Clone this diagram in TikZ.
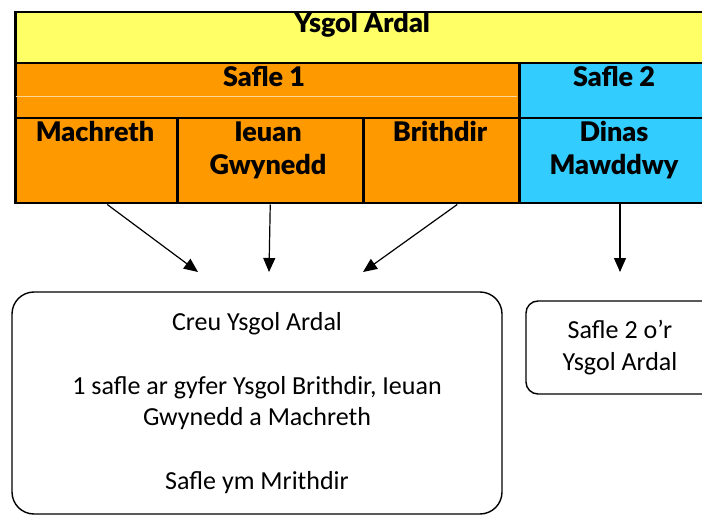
\documentclass[tikz,border=0pt]{standalone}
\usepackage{fontspec}
\setmainfont{Carlito}
\newfontfamily\gillfont{Lato}[BoldFont={Lato Black}]
\usepackage{tikz}
\usetikzlibrary{arrows.meta,positioning}
\definecolor{ysgolyellow}{HTML}{FFFF66}
\definecolor{safleorange}{HTML}{FF9900}
\definecolor{safleblue}{HTML}{33CCFF}

\begin{document}
\begin{tikzpicture}[x=1pt,y=-1pt,
  cell/.style={draw=black,line width=2.5pt,inner sep=0pt,anchor=north west},
  head/.style={font=\gillfont\bfseries\fontsize{27}{33}\selectfont,align=center,anchor=base},
  box/.style={draw=black,line width=1.4pt,align=center,font=\fontsize{26}{31.5}\selectfont},
  arr/.style={-{Triangle[length=14pt,width=12pt]},line width=1.2pt}]
\useasboundingbox (0,0) rectangle (702,516);
\clip (0,0) rectangle (702,516);
% table
\node[cell,fill=ysgolyellow,minimum width=706,minimum height=51] (ysgolrow) at (14,11) {};
\node[cell,fill=safleorange,minimum width=504,minimum height=55] (safle1row) at (14,62) {};
\node[cell,fill=safleblue,minimum width=202,minimum height=55] (safle2row) at (518,62) {};
\draw[white!60!safleorange,line width=0.6pt] (15.5,96) -- (516.5,96);
\node[cell,fill=safleorange,minimum width=162,minimum height=85] (machcell) at (14,117) {};
\node[cell,fill=safleorange,minimum width=186,minimum height=85] (ieuancell) at (176,117) {};
\node[cell,fill=safleorange,minimum width=156,minimum height=85] (brithcell) at (362,117) {};
\node[cell,fill=safleblue,minimum width=202,minimum height=85] (dinascell) at (518,117) {};
\node[head] (ardal) at (362,33) {Ysgol Ardal};
\node[head] (safle1) at (264,87) {Safle 1};
\node[head] (safle2) at (614,87) {Safle 2};
\node[head] (mach) at (95,142) {Machreth};
\node[head,anchor=north] (ieuan) at (268,118) {Ieuan\\Gwynedd};
\node[head] (brith) at (440,142) {Brithdir};
\node[head,anchor=north] (dinas) at (614,118) {Dinas\\Mawddwy};
% boxes
\node[box,rounded corners=22pt,minimum width=490,minimum height=222] (plan) at (257,403)
  {Creu Ysgol Ardal\\[32pt]1 safle ar gyfer Ysgol Brithdir, Ieuan\\Gwynedd a Machreth\\[32pt]Safle ym Mrithdir};
\node[box,rounded corners=12pt,minimum width=188,minimum height=93] (site2) at (620,347.5)
  {Safle 2 o’r\\Ysgol Ardal};
% arrows
\coordinate (machtip) at (198,272);
\coordinate (ieuantip) at (269,272);
\coordinate (brithtip) at (363,272);
\coordinate (dinastip) at (620,272);
\draw[arr] ([xshift=11pt]machcell.south) -- (machtip);
\draw[arr] (ieuancell.south) -- (ieuantip);
\draw[arr] ([xshift=16pt]brithcell.south) -- (brithtip);
\draw[arr] (dinascell.south -| dinastip) -- (dinastip);
\end{tikzpicture}
\end{document}
